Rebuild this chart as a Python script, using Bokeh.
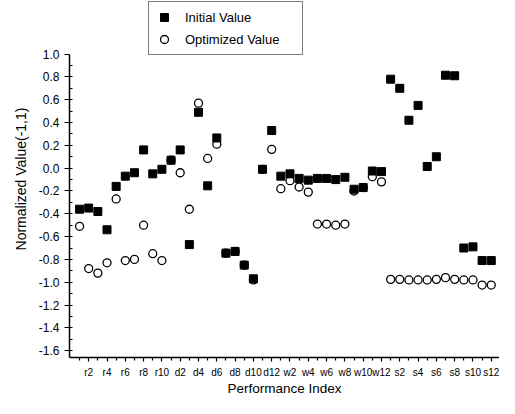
from bokeh.plotting import figure
from bokeh.models import FixedTicker, PrintfTickFormatter, Legend, LegendItem, Range1d
from bokeh.embed import file_html
from bokeh.resources import INLINE

categories = ["r1", "r2", "r3", "r4", "r5", "r6", "r7", "r8", "r9", "r10",
              "d1", "d2", "d3", "d4", "d5", "d6", "d7", "d8", "d9", "d10", "d11", "d12",
              "w1", "w2", "w3", "w4", "w5", "w6", "w7", "w8", "w9", "w10", "w11", "w12",
              "s1", "s2", "s3", "s4", "s5", "s6", "s7", "s8", "s9", "s10", "s11", "s12"]

initial_value = [-0.36, -0.35, -0.38, -0.54, -0.16, -0.07, -0.04, 0.16, -0.05, -0.01,
                 0.07, 0.16, -0.67, 0.49, -0.155, 0.265, -0.745, -0.73, -0.85, -0.97, -0.01, 0.33,
                 -0.07, -0.05, -0.09, -0.105, -0.09, -0.09, -0.10, -0.08, -0.185, -0.17, -0.025, -0.03,
                 0.78, 0.70, 0.42, 0.55, 0.015, 0.10, 0.815, 0.81, -0.70, -0.69, -0.81, -0.81]

optimized_value = [-0.51, -0.88, -0.92, -0.83, -0.27, -0.81, -0.80, -0.50, -0.75, -0.81,
                   0.07, -0.04, -0.36, 0.57, 0.085, 0.21, -0.745, -0.73, -0.85, -0.98, -0.01, 0.165,
                   -0.18, -0.11, -0.165, -0.21, -0.49, -0.49, -0.50, -0.49, -0.20, -0.17, -0.075, -0.12,
                   -0.975, -0.975, -0.98, -0.98, -0.98, -0.975, -0.96, -0.975, -0.98, -0.98, -1.025, -1.025]

y_major = [-1.6, -1.4, -1.2, -1.0, -0.8, -0.6, -0.4, -0.2, 0.0, 0.2, 0.4, 0.6, 0.8, 1.0]
y_minor = [round(-1.7 + 0.1 * i, 1) for i in range(27)]

x = list(range(len(categories)))
x_major = [i for i in x if i % 2 == 1]
x_minor = [i for i in x if i % 2 == 0]

FONT = "Liberation Sans"

p = figure(width=499, height=398,
           x_range=Range1d(-1.1, 45.9), y_range=Range1d(-1.66, 1.47),
           output_backend="svg", toolbar_location=None,
           min_border_left=69, min_border_right=0, min_border_top=0, min_border_bottom=38)

p.xgrid.grid_line_color = None
p.ygrid.grid_line_color = None
p.outline_line_color = None
p.background_fill_color = "white"

r_opt = p.scatter(x, optimized_value, marker="circle", size=8, fill_color="white",
                  line_color="black", line_width=1.3)
r_init = p.scatter(x, initial_value, marker="square", size=8, fill_color="black",
                   line_color="black", line_width=1)

# x axis
xa = p.xaxis[0]
xa.ticker = FixedTicker(ticks=x_major, minor_ticks=x_minor)
xa.major_label_overrides = {i: categories[i] for i in x_major}
xa.axis_label = "Performance Index"
xa.axis_label_text_font = FONT
xa.axis_label_text_font_size = "13.5px"
xa.axis_label_text_font_style = "normal"
xa.axis_label_standoff = 0
xa.major_label_text_font = FONT
xa.major_label_text_font_size = "10px"
xa.major_label_standoff = 5
xa.major_tick_out = 4
xa.major_tick_in = 0
xa.minor_tick_out = 3
xa.minor_tick_in = 0
xa.axis_line_width = 1.5
xa.major_tick_line_width = 1.2
xa.minor_tick_line_width = 1.2
xa.axis_line_color = "black"
xa.major_label_text_color = "black"
xa.axis_label_text_color = "black"

# y axis
ya = p.yaxis[0]
ya.bounds = (-1.7, 1.0)
ya.ticker = FixedTicker(ticks=y_major, minor_ticks=y_minor)
ya.formatter = PrintfTickFormatter(format="%.1f")
ya.axis_label = "Normalized Value(-1,1)"
ya.axis_label_text_font = FONT
ya.axis_label_text_font_size = "14px"
ya.axis_label_text_font_style = "normal"
ya.axis_label_standoff = 7
ya.major_label_text_font = FONT
ya.major_label_text_font_size = "12px"
ya.major_label_standoff = 5
ya.major_tick_out = 5
ya.major_tick_in = 0
ya.minor_tick_out = 0
ya.minor_tick_in = 3
ya.axis_line_width = 1.5
ya.major_tick_line_width = 1.2
ya.minor_tick_line_width = 1.2
ya.axis_line_color = "black"
ya.major_label_text_color = "black"
ya.axis_label_text_color = "black"

legend = Legend(items=[LegendItem(label="Initial Value", renderers=[r_init]),
                       LegendItem(label="Optimized Value", renderers=[r_opt])],
                location=(79, 302), orientation="vertical",
                border_line_color="black", border_line_width=1.2,
                background_fill_color="white", background_fill_alpha=1,
                padding=5, spacing=2, margin=0,
                glyph_width=20, glyph_height=20, label_height=20, label_width=112,
                label_standoff=11,
                label_text_font=FONT, label_text_font_size="13px", label_text_color="black")
p.add_layout(legend, "center")

open("out.html", "w").write(file_html(p, INLINE))
